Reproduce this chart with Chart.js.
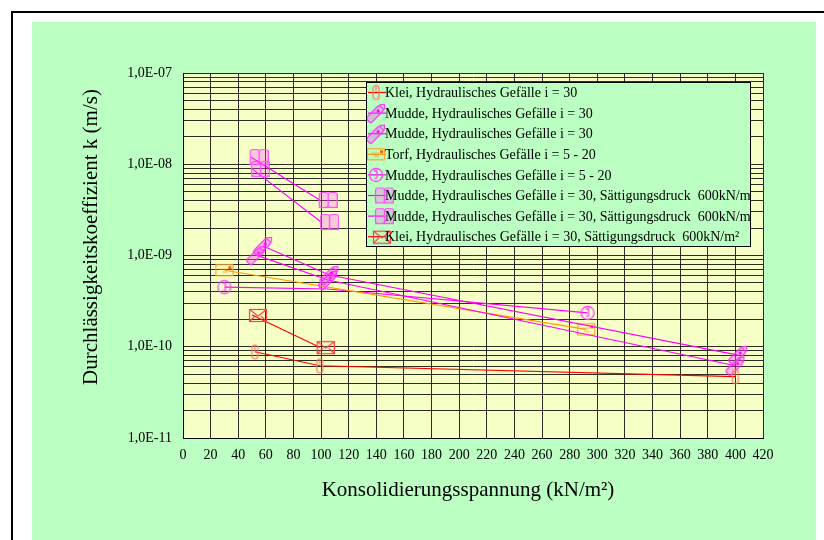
<!DOCTYPE html>
<html><head><meta charset="utf-8">
<script src="https://cdn.jsdelivr.net/npm/chart.js@4.4.0/dist/chart.umd.min.js"></script>
<style>html,body{margin:0;padding:0;background:#fff;}canvas{display:block}</style>
</head><body>
<canvas id="c" width="824" height="540"></canvas>
<script>
// ---- data ----
const seriesLabels = [
  'Klei, Hydraulisches Gefälle i = 30',
  'Mudde, Hydraulisches Gefälle i = 30',
  'Mudde, Hydraulisches Gefälle i = 30',
  'Torf, Hydraulisches Gefälle i = 5 - 20',
  'Mudde, Hydraulisches Gefälle i = 5 - 20',
  'Mudde, Hydraulisches Gefälle i = 30, Sättigungsdruck  600kN/m²',
  'Mudde, Hydraulisches Gefälle i = 30, Sättigungsdruck  600kN/m²',
  'Klei, Hydraulisches Gefälle i = 30, Sättigungsdruck  600kN/m²'
];
const kleiX = [52, 99, 400];
const kleiK = [8.8e-11, 6.2e-11, 4.7e-11];
const muddeAX = [58, 106, 402];
const muddeAK = [1.27e-9, 6.1e-10, 8.1e-11];
const muddeBX = [53, 105, 400];
const muddeBK = [1.01e-9, 5.4e-10, 6.2e-11];
const torfX = [30, 292];
const torfK = [6.9e-10, 1.55e-10];
const mudde520X = [30, 105, 293];
const mudde520K = [4.5e-10, 4.3e-10, 2.35e-10];
const mudde520Marked = [true, false, true];
const muddeSat1X = [49, 99];
const muddeSat1K = [1.2e-8, 4.06e-9];
const muddeSat2X = [50, 100];
const muddeSat2K = [8.9e-9, 2.33e-9];
const kleiSatX = [50, 99];
const kleiSatK = [2.23e-10, 9.9e-11];

const xTicksMin = 0, xTicksMax = 420, xStep = 20;
const yMin = 1e-11, yMax = 1e-7;
const xTitle = 'Konsolidierungsspannung (kN/m²)';
const yTitle = 'Durchlässigkeitskoeffizient k (m/s)';

// ---- marker images ----
function mk(w, h, fn) { const c = document.createElement('canvas'); c.width = w; c.height = h; fn(c.getContext('2d'), w, h); return c; }
function rr(ctx, x, y, w, h, r) { ctx.beginPath(); ctx.moveTo(x + r, y); ctx.arcTo(x + w, y, x + w, y + h, r); ctx.arcTo(x + w, y + h, x, y + h, r); ctx.arcTo(x, y + h, x, y, r); ctx.arcTo(x, y, x + w, y, r); ctx.closePath(); }
const mCapsule = mk(12, 20, (c) => { c.strokeStyle = '#ff7a66'; c.lineWidth = 1.2; rr(c, 3, 3, 6, 14, 3); c.stroke(); c.beginPath(); c.moveTo(6, 3); c.lineTo(6, 9); c.stroke(); });
const mPencil = mk(28, 28, (c) => { c.translate(14, 14); c.rotate(-Math.PI / 4); c.fillStyle = 'rgba(255,60,255,0.35)'; c.strokeStyle = '#ff30ff'; c.lineWidth = 1.2; rr(c, -11, -3.5, 19, 7, 2); c.fill(); c.stroke(); c.beginPath(); c.moveTo(8, -3.5); c.lineTo(12, 0); c.lineTo(8, 3.5); c.stroke(); c.fillStyle = '#ff00ff'; c.beginPath(); c.arc(3, 0, 1.6, 0, 6.3); c.fill(); });
const mTorf = mk(22, 14, (c) => { c.strokeStyle = '#ffa030'; c.lineWidth = 1.2; c.strokeRect(2.5, 1.5, 17, 11); c.beginPath(); c.moveTo(6, 6); c.lineTo(14, 6); c.moveTo(9, 9); c.lineTo(14, 9); c.stroke(); c.fillStyle = '#e07000'; c.fillRect(15, 3, 3, 3); });
const mCircle = mk(18, 18, (c) => { c.strokeStyle = '#ff40ff'; c.lineWidth = 1.3; c.beginPath(); c.arc(9, 9, 6.5, 0, 6.3); c.stroke(); c.beginPath(); c.moveTo(7, 5); c.lineTo(10, 5); c.lineTo(10, 11); c.quadraticCurveTo(10, 13, 7.5, 12); c.stroke(); });
const mBook = mk(36, 20, (c) => { c.fillStyle = 'rgba(255,80,255,0.3)'; c.strokeStyle = '#ff50ff'; c.lineWidth = 1.2; rr(c, 17.5, 2.5, 9, 15, 2.5); c.fill(); c.stroke(); rr(c, 26.5, 2.5, 9, 15, 2.5); c.fill(); c.stroke(); c.beginPath(); c.moveTo(17, 17.5); c.lineTo(36, 17.5); c.stroke(); });
const mEnv = mk(30, 16, (c) => { c.strokeStyle = '#ff4040'; c.lineWidth = 1.2; c.strokeRect(12.5, 2.5, 17, 12); c.beginPath(); c.moveTo(12.5, 2.5); c.lineTo(21, 9); c.lineTo(29.5, 2.5); c.moveTo(12.5, 14.5); c.lineTo(18, 9); c.moveTo(29.5, 14.5); c.lineTo(24, 9); c.stroke(); });

function pts(xs, ks) { return xs.map((x, i) => ({ x: x, y: ks[i] })); }
const RED = '#ff0000', MAG = '#ff00ff', ORA = '#ff9900';
const defs = [
  [kleiX, kleiK, RED, mCapsule, null],
  [muddeAX, muddeAK, MAG, mPencil, null],
  [muddeBX, muddeBK, MAG, mPencil, null],
  [torfX, torfK, ORA, mTorf, null],
  [mudde520X, mudde520K, MAG, mCircle, mudde520Marked],
  [muddeSat1X, muddeSat1K, MAG, mBook, null],
  [muddeSat2X, muddeSat2K, MAG, mBook, null],
  [kleiSatX, kleiSatK, RED, mEnv, null]
];
const datasets = defs.map((d, i) => ({
  label: seriesLabels[i], data: pts(d[0], d[1]), showLine: true,
  borderColor: d[2], backgroundColor: d[2], borderWidth: 1.1,
  pointStyle: d[3], legendImg: d[3],
  pointRadius: d[4] ? d[4].map(m => m ? 8 : 0) : 8, pointHoverRadius: 8
}));

const SERIF = "'Liberation Serif','Times New Roman',serif";

const bgPlugin = {
  id: 'bg',
  beforeDraw(chart) {
    const ctx = chart.ctx, a = chart.chartArea;
    ctx.save();
    ctx.fillStyle = '#ffffff'; ctx.fillRect(0, 0, chart.width, chart.height);
    ctx.fillStyle = '#000'; ctx.fillRect(11, 11, chart.width - 11, 2); ctx.fillRect(11, 11, 2, chart.height - 11);
    ctx.fillStyle = '#bbffc2'; ctx.fillRect(32, 22, 784, chart.height - 22);
    ctx.fillStyle = '#f5ffc6'; ctx.fillRect(a.left, a.top, a.right - a.left, a.bottom - a.top);
    ctx.restore();
  },
  afterDraw(chart) {
    const ctx = chart.ctx, a = chart.chartArea;
    ctx.save();
    ctx.fillStyle = '#000';
    ctx.font = '21px ' + SERIF;
    ctx.textAlign = 'center'; ctx.textBaseline = 'middle';
    ctx.fillText(xTitle, (a.left + a.right) / 2 - 5, 490);
    ctx.translate(91, 237); ctx.rotate(-Math.PI / 2);
    ctx.fillText(yTitle, 0, 0);
    ctx.restore();
    // legend box
    ctx.save();
    const lx = 366, ly = 82, lw = 384, lh = 164;
    ctx.fillStyle = '#bbffc2'; ctx.fillRect(lx, ly, lw, lh);
    ctx.strokeStyle = '#000'; ctx.lineWidth = 1; ctx.strokeRect(lx + 0.5, ly + 0.5, lw, lh);
    ctx.beginPath(); ctx.rect(lx + 1, ly + 1, lw - 1, lh - 1); ctx.clip();
    ctx.font = '14px ' + SERIF; ctx.textAlign = 'left'; ctx.textBaseline = 'middle';
    chart.data.datasets.forEach((ds, i) => {
      const y = ly + 10.5 + i * 20.6;
      ctx.strokeStyle = ds.borderColor; ctx.lineWidth = 1.2;
      ctx.beginPath(); ctx.moveTo(368, y); ctx.lineTo(386, y); ctx.stroke();
      const img = ds.legendImg;
      ctx.drawImage(img, 376 - img.width / 2, y - img.height / 2);
      ctx.fillStyle = '#000';
      ctx.fillText(ds.label, 385, y + 1);
    });
    ctx.restore();
  }
};

const GRID = 'rgba(0,0,0,0.82)';
new Chart(document.getElementById('c'), {
  type: 'scatter',
  data: { datasets: datasets },
  plugins: [bgPlugin],
  options: {
    responsive: false, animation: false, devicePixelRatio: 1,
    layout: { padding: { left: 0, right: 61, top: 73, bottom: 0 } },
    plugins: { legend: { display: false }, tooltip: { enabled: false } },
    scales: {
      x: {
        type: 'linear', min: xTicksMin, max: xTicksMax,
        afterFit(s) { s.height = 102; },
        ticks: { stepSize: xStep, color: '#000', font: { family: SERIF, size: 14 }, padding: 9, maxRotation: 0, autoSkip: false },
        grid: { color: GRID, lineWidth: 1, drawTicks: false },
        border: { display: true, color: '#000', width: 1 }
      },
      y: {
        type: 'logarithmic', min: yMin, max: yMax,
        afterFit(s) { s.width = 183; },
        afterBuildTicks(s) {
          const t = [];
          for (let e = -11; e < -7; e++) for (let m = 1; m <= 9; m++) t.push({ value: m * Math.pow(10, e) });
          t.push({ value: 1e-7 });
          s.ticks = t;
        },
        ticks: {
          color: '#000', font: { family: SERIF, size: 14 }, padding: 11, autoSkip: false,
          callback(v) {
            const e = Math.log10(v), r = Math.round(e);
            if (Math.abs(e - r) > 1e-6) return '';
            const n = Math.abs(r);
            return '1,0E' + (r < 0 ? '-' : '+') + (n < 10 ? '0' : '') + n;
          }
        },
        grid: { color: GRID, lineWidth: 1, drawTicks: false },
        border: { display: true, color: '#000', width: 1 }
      }
    }
  }
});
</script>
</body></html>
